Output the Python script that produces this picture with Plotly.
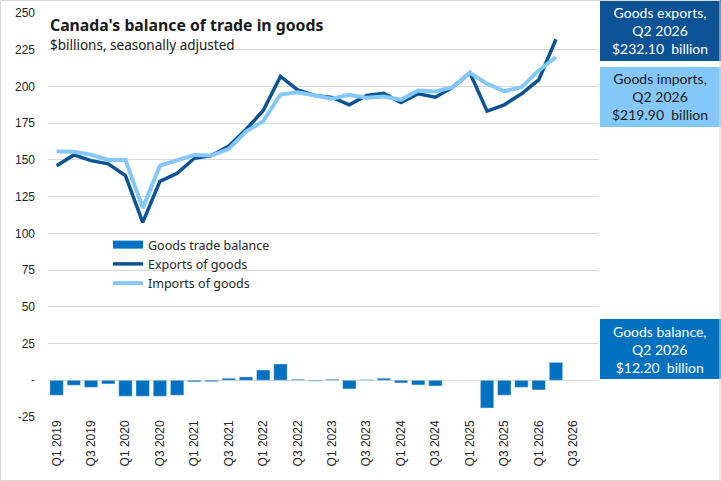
import plotly.graph_objects as go

# quarters on the category axis (Q3/Q4 2026 are empty slots)
quarters = [f"Q{q} {y}" for y in range(2019, 2027) for q in range(1, 5)]
data_quarters = quarters[:30]

exports = [146.1, 153.4, 149.5, 147.3, 139.3, 107.5, 135.4, 140.9, 151.1, 153.0,
           159.5, 170.7, 183.6, 206.8, 197.7, 193.9, 192.5, 187.5, 193.9, 195.3,
           189.0, 195.0, 192.7, 199.5, 209.3, 183.2, 187.5, 195.0, 204.5, 232.1]
imports = [155.8, 155.6, 153.6, 150.0, 150.0, 117.3, 146.1, 150.0, 153.4, 153.0,
           157.5, 169.3, 176.4, 194.5, 196.1, 193.9, 191.6, 194.3, 192.3, 193.2,
           190.9, 197.3, 196.6, 199.5, 209.3, 201.8, 196.8, 199.5, 210.9, 219.9]
balance = [-10.2, -3.4, -4.8, -2.5, -10.9, -10.9, -10.9, -10.2, -1.1, -1.0,
           1.4, 2.3, 7.0, 11.1, 0.7, -0.6, 0.7, -5.9, 0.5, 1.4,
           -1.8, -3.2, -3.9, 0.0, 0.0, -18.9, -10.2, -4.8, -6.6, 12.2]

y_ticks = [-25, 0, 25, 50, 75, 100, 125, 150, 175, 200, 225, 250]
y_text = ["-25", "-", "25", "50", "75", "100", "125", "150", "175", "200", "225", "250"]

BAR = "#0070C0"
DARK = "#0B5394"
LIGHT = "#83C8F8"

W, H = 721, 481
L, R, T, B = 48, 122, 13, 64
PW, PH = W - L - R, H - T - B


def px_x(x):
    return (x - L) / PW


def px_y(y):
    return (H - B - y) / PH


fig = go.Figure()
fig.add_trace(go.Bar(x=data_quarters, y=balance, name="Goods trade balance",
                     marker_color=BAR, showlegend=False))
# legend stand-in so the bar swatch is a wide block like the original
fig.add_trace(go.Scatter(x=[None], y=[None], mode="lines", name="Goods trade balance",
                         line=dict(color=BAR, width=8)))
fig.add_trace(go.Scatter(x=data_quarters, y=exports, mode="lines", name="Exports of goods",
                         line=dict(color=DARK, width=3.5)))
fig.add_trace(go.Scatter(x=data_quarters, y=imports, mode="lines", name="Imports of goods",
                         line=dict(color=LIGHT, width=4)))

fig.update_layout(
    width=W, height=H,
    margin=dict(l=L, r=R, t=T, b=B),
    paper_bgcolor="white", plot_bgcolor="white",
    bargap=0.22,
    showlegend=True,
    legend=dict(x=px_x(108), y=px_y(230), xanchor="left", yanchor="top",
                bgcolor="rgba(0,0,0,0)", tracegroupgap=0,
                font=dict(family="Noto Sans", size=12.5, color="#262626")),
    font=dict(family="Liberation Sans", size=12, color="#262626"),
)
fig.update_xaxes(type="category", categoryorder="array", categoryarray=quarters,
                 range=[-0.5, 31.5], tickvals=quarters[::2], ticktext=quarters[::2],
                 tickangle=-90, showgrid=False, showline=False, ticks="", automargin=False,
                 tickfont=dict(family="Liberation Sans", size=12, color="#262626"))
fig.update_yaxes(range=[-25, 250], tickvals=y_ticks, ticktext=y_text,
                 showgrid=True, gridcolor="#D9D9D9", gridwidth=1, zeroline=False,
                 showline=False, ticks="", ticklabelstandoff=12, automargin=False,
                 tickfont=dict(family="Liberation Sans", size=12, color="#262626"))

fig.add_annotation(text="<b>Canada's balance of trade in goods</b>", xref="paper", yref="paper",
                   x=px_x(49), y=px_y(24.5), xanchor="left", yanchor="middle", showarrow=False,
                   borderpad=0, font=dict(family="Noto Sans", size=15.8, color="#1a1a1a"))
fig.add_annotation(text="$billions, seasonally adjusted", xref="paper", yref="paper",
                   x=px_x(49), y=px_y(45.5), xanchor="left", yanchor="middle", showarrow=False,
                   borderpad=0, font=dict(family="Noto Sans", size=13.5, color="#1a1a1a"))

# callout boxes on the right
boxes = [
    (0, 61, DARK, "white", "Goods exports,<br>Q2 2026<br>$232.10  billion"),
    (67, 127, LIGHT, "#1a1a1a", "Goods imports,<br>Q2 2026<br>$219.90  billion"),
    (319, 379, BAR, "white", "Goods balance,<br>Q2 2026<br>$12.20  billion"),
]
for top, bottom, bg, fg, txt in boxes:
    fig.add_shape(type="rect", xref="paper", yref="paper", layer="above",
                  x0=px_x(600), x1=px_x(721), y0=px_y(bottom), y1=px_y(top),
                  fillcolor=bg, line=dict(width=0))
    fig.add_annotation(text=txt, xref="paper", yref="paper",
                       x=px_x(660), y=px_y((top + bottom) / 2),
                       xanchor="center", yanchor="middle", showarrow=False, align="center",
                       font=dict(family="Lato", size=14, color=fg))

# light chart border
fig.add_shape(type="rect", xref="paper", yref="paper",
              x0=px_x(0.5), x1=px_x(720), y0=px_y(480.5), y1=px_y(0.5),
              line=dict(color="#D9D9D9", width=1))

fig.write_html("out.html", config={"displayModeBar": False},
               post_script="document.body.style.margin='0';document.body.style.overflow='hidden';")
